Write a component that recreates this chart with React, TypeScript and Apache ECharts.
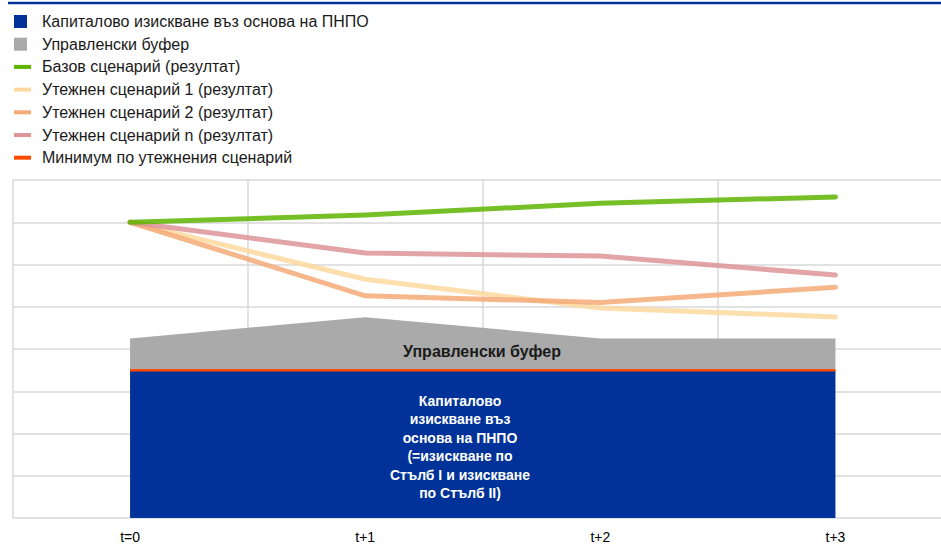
import React, { useEffect, useRef } from "react";
import * as echarts from "echarts";

const categories = ["t=0", "t+1", "t+2", "t+3"];
const seriesNames = [
  "Капиталово изискване въз основа на ПНПО",
  "Управленски буфер",
  "Базов сценарий (резултат)",
  "Утежнен сценарий 1 (резултат)",
  "Утежнен сценарий 2 (резултат)",
  "Утежнен сценарий n (резултат)",
  "Минимум по утежнения сценарий",
];
const capitalReq = [3.5, 3.5, 3.5, 3.5];
const mgmtBuffer = [0.75, 1.25, 0.75, 0.75];
const baseline = [7.0, 7.17, 7.45, 7.6];
const adverse1 = [7.0, 5.65, 4.97, 4.76];
const adverse2 = [7.0, 5.26, 5.1, 5.46];
const adverseN = [7.0, 6.27, 6.2, 5.75];
const minimum = [3.5, 3.5, 3.5, 3.5];
const yMin = 0;
const yMax = 8;
const yInterval = 1;

const bufferLabel = "Управленски буфер";
const capitalLabel =
  "Капиталово\nизискване въз\nоснова на ПНПО\n(=изискване по\nСтълб I и изискване\nпо Стълб II)";

const FONT = "'Liberation Sans', Arial, sans-serif";
const SQUARE = "path://M0,0H13V13H0ZM17,13";
const BAR = "path://M0,0H17V4H0Z";

export default function App() {
  const ref = useRef<HTMLDivElement>(null);
  useEffect(() => {
    if (!ref.current) return;
    const chart = echarts.init(ref.current, null, { renderer: "svg" });
    const lineSeries = (name: string, data: number[], color: string, z: number) => ({
      name,
      type: "line",
      data,
      color,
      symbol: "none",
      z,
      silent: true,
      lineStyle: { color, width: 5, cap: "round", join: "round", opacity: 0.85 },
    });
    chart.setOption({
      animation: false,
      textStyle: { fontFamily: FONT },
      legend: {
        orient: "vertical",
        left: 14,
        top: 13.5,
        padding: 0,
        itemWidth: 17,
        itemHeight: 13,
        itemGap: 6.7,
        selectedMode: false,
        textStyle: {
          fontSize: 16,
          lineHeight: 16,
          color: "#1a1a1a",
          fontFamily: FONT,
          padding: [0, 0, 0, 6],
        },
        data: seriesNames.map((n, i) => ({ name: n, icon: i < 2 ? SQUARE : BAR })),
      },
      grid: { left: 12.5, right: 0, top: 180, bottom: 25, containLabel: false },
      xAxis: {
        type: "category",
        data: categories,
        boundaryGap: true,
        axisLine: { show: false },
        axisTick: { show: false },
        axisLabel: { color: "#000", fontSize: 14, margin: 12, fontFamily: FONT },
        splitLine: { show: true, lineStyle: { color: "#d9d9d9", width: 1.5 } },
      },
      yAxis: {
        type: "value",
        min: yMin,
        max: yMax,
        interval: yInterval,
        axisLabel: { show: false },
        axisLine: { show: false },
        axisTick: { show: false },
        splitLine: { show: true, lineStyle: { color: "#d9d9d9", width: 1.5 } },
      },
      graphic: [
        {
          type: "line",
          shape: { x1: 8, y1: 3, x2: 953, y2: 3 },
          style: { stroke: "#003299", lineWidth: 2.5 },
        },
        {
          type: "text",
          x: 482,
          y: 351,
          z: 100,
          style: {
            text: bufferLabel,
            fill: "#1a1a1a",
            font: `bold 16px ${FONT}`,
            textAlign: "center",
            textVerticalAlign: "middle",
          },
        },
        {
          type: "text",
          x: 460,
          y: 447,
          z: 100,
          style: {
            text: capitalLabel,
            fill: "#ffffff",
            font: `bold 14px ${FONT}`,
            lineHeight: 18.4,
            textAlign: "center",
            textVerticalAlign: "middle",
          },
        },
      ],
      series: [
        {
          name: seriesNames[0],
          type: "line",
          stack: "total",
          data: capitalReq,
          color: "#003299",
          symbol: "none",
          silent: true,
          z: 1,
          lineStyle: { width: 0 },
          areaStyle: { color: "#003299", opacity: 1 },
        },
        {
          name: seriesNames[1],
          type: "line",
          stack: "total",
          data: mgmtBuffer,
          color: "#aaaaaa",
          symbol: "none",
          silent: true,
          z: 1,
          lineStyle: { width: 0 },
          areaStyle: { color: "#aaaaaa", opacity: 1 },
        },
        lineSeries(seriesNames[3], adverse1, "#fdd9a0", 3),
        lineSeries(seriesNames[4], adverse2, "#f5aa78", 4),
        lineSeries(seriesNames[5], adverseN, "#de9498", 5),
        lineSeries(seriesNames[2], baseline, "#5fb400", 6),
        {
          name: seriesNames[6],
          type: "line",
          data: minimum,
          color: "#ff4b00",
          symbol: "none",
          silent: true,
          z: 2,
          lineStyle: { color: "#ff4b00", width: 2.5 },
        },
      ],
    });
    return () => chart.dispose();
  }, []);
  return (
    <div
      style={{
        position: "absolute",
        left: 0,
        top: 0,
        width: 941,
        height: 544,
        overflow: "hidden",
      }}
    >
      <div ref={ref} style={{ width: 953, height: 544 }} />
    </div>
  );
}
